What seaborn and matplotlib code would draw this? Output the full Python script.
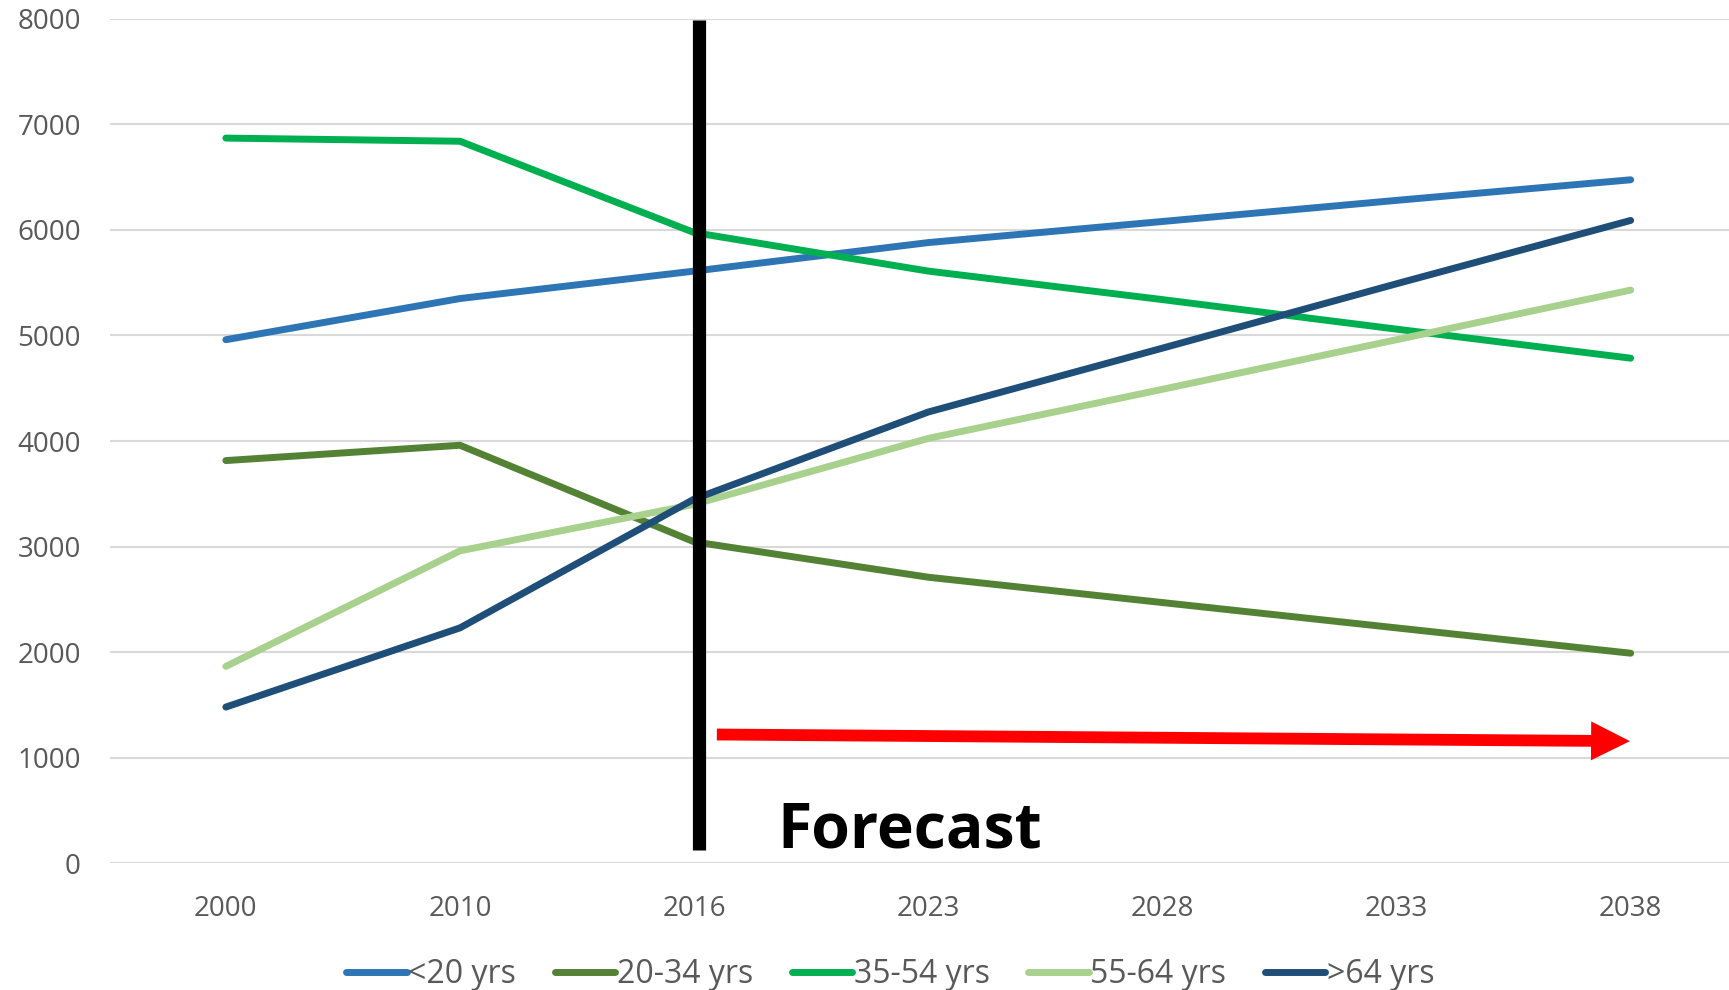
import pandas as pd
import numpy as np
import seaborn as sns
import matplotlib.pyplot as plt
from matplotlib.patches import FancyArrowPatch, ArrowStyle

years = ['2000', '2010', '2016', '2023', '2028', '2033', '2038']
groups = ['<20 yrs', '20-34 yrs', '35-54 yrs', '55-64 yrs', '>64 yrs']

under_20 = [4960, 5350, 5610, 5880, 6080, 6280, 6475]
age_20_34 = [3815, 3960, 3045, 2710, 2470, 2230, 1990]
age_35_54 = [6870, 6840, 5975, 5610, 5340, 5060, 4785]
age_55_64 = [1865, 2960, 3400, 4025, 4490, 4960, 5430]
over_64 = [1480, 2230, 3450, 4275, 4880, 5490, 6090]

colors = ['#2E75B6', '#548235', '#00B050', '#A9D18E', '#1F4E79']

# long form table for seaborn
rows = []
for g, vals in zip(groups, [under_20, age_20_34, age_35_54, age_55_64, over_64]):
    for i, v in enumerate(vals):
        rows.append({'pos': i, 'year': years[i], 'group': g, 'value': v})
df = pd.DataFrame(rows)

sns.set_style('white')
plt.rcParams['font.family'] = ['Open Sans', 'DejaVu Sans']

fig = plt.figure(figsize=(17.29, 9.90), dpi=100)
ax = fig.add_axes([0.0636, 0.128, 0.9364, 0.853])

sns.lineplot(data=df, x='pos', y='value', hue='group', hue_order=groups,
             palette=dict(zip(groups, colors)), linewidth=5.0, sort=False,
             ax=ax, legend=False, solid_capstyle='round', solid_joinstyle='round')

ax.set_ylim(0, 8000)
ax.set_xlim(-0.495, 6.42)
ax.set_yticks(np.arange(0, 8001, 1000))
ax.set_xticks(range(len(years)))
ax.set_xticklabels(years)
ax.set_xlabel('')
ax.set_ylabel('')
ax.grid(axis='y', color='#D9D9D9', linewidth=1.5)
ax.set_axisbelow(True)
for s in ax.spines.values():
    s.set_visible(False)
ax.tick_params(axis='both', length=0, labelsize=20, labelcolor='#595959')
ax.tick_params(axis='y', pad=21)
ax.tick_params(axis='x', pad=23)

# forecast divider
ax.plot([2.02, 2.02], [125, 7990], color='black', linewidth=9.5, solid_capstyle='butt')

arrow = FancyArrowPatch((2.097, 1220), (5.997, 1157),
                        arrowstyle=ArrowStyle.Simple(head_length=28, head_width=28, tail_width=8.5),
                        mutation_scale=1, color='red', shrinkA=0, shrinkB=0, linewidth=0)
ax.add_patch(arrow)

ax.text(2.354, 146, 'Forecast', fontsize=45, fontweight='bold', color='black', va='baseline')

handles = [plt.Line2D([], [], color=c, linewidth=5.0, solid_capstyle='round') for c in colors]
fig.legend(handles, groups, loc='lower center', bbox_to_anchor=(0.515, -0.03), ncol=5,
           frameon=False, fontsize=23, handlelength=1.9, handletextpad=0.05,
           columnspacing=1.2, labelcolor='#595959')

plt.savefig('out.png', dpi=100)
